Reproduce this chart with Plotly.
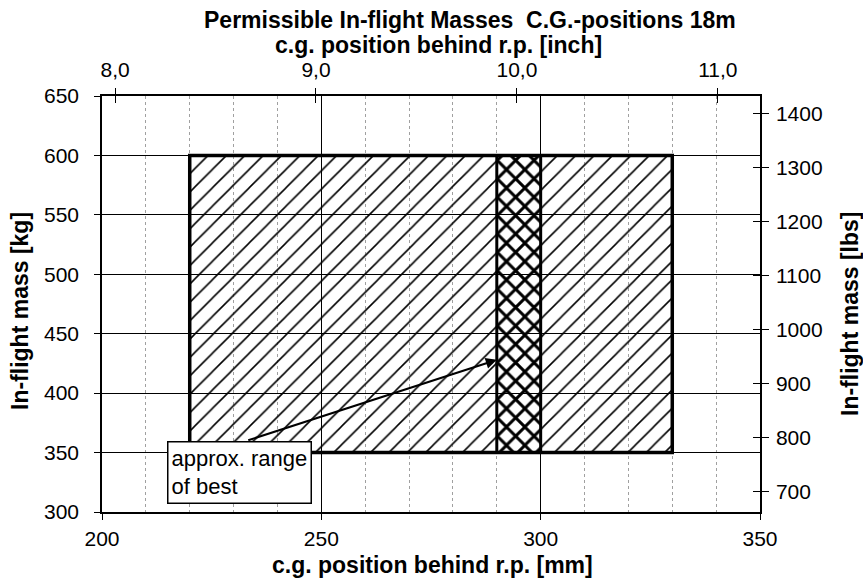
import plotly.graph_objects as go

# ---------------- data ----------------
cg_limits_mm = [220, 330]          # permissible c.g. range
best_range_mm = [290, 300]         # approx. range of best c.g.
mass_limits_kg = [350, 600]        # permissible in-flight mass
arrow_tip = [290, 428]             # (mm, kg) arrow points here
arrow_tail = [233, 360]            # (mm, kg) arrow leaves label box here
label_corner = [214.8, 359.8]      # (mm, kg) top-left of label box

x_ticks_mm = [200, 250, 300, 350]
y_ticks_kg = [300, 350, 400, 450, 500, 550, 600, 650]
inch_ticks = [8.0, 9.0, 10.0, 11.0]
inch_labels = ["8,0", "9,0", "10,0", "11,0"]
inch_range = [7.935, 11.21]
lbs_ticks = [700, 800, 900, 1000, 1100, 1200, 1300, 1400]
KG_TO_LBS = 2.20462

x_range = [200, 350]
y_range = [300, 650]
lbs_range = [y_range[0] * KG_TO_LBS, y_range[1] * KG_TO_LBS]

FONT = "Arial, Liberation Sans, Helvetica, sans-serif"

# ---------------- figure ----------------
fig = go.Figure()

a, b = cg_limits_mm
c, d = best_range_mm
lo, hi = mass_limits_kg

# single hatched permissible area (excluding best range)
fig.add_trace(go.Scatter(
    x=[a, c, c, a, a, None, d, b, b, d, d],
    y=[lo, lo, hi, hi, lo, None, lo, lo, hi, hi, lo],
    mode="lines", fill="toself", line=dict(width=0, color="black"),
    fillcolor="rgba(0,0,0,0)",
    fillpattern=dict(shape="/", fgcolor="black", bgcolor="rgba(0,0,0,0)",
                     size=13, solidity=0.12, fillmode="replace"),
    hoverinfo="skip", showlegend=False,
))

# cross-hatched best range
fig.add_trace(go.Scatter(
    x=[c, d, d, c, c],
    y=[lo, lo, hi, hi, lo],
    mode="lines", fill="toself", line=dict(width=3, color="black"),
    fillcolor="rgba(0,0,0,0)",
    fillpattern=dict(shape="x", fgcolor="black", bgcolor="rgba(0,0,0,0)",
                     size=13, solidity=0.4, fillmode="replace"),
    hoverinfo="skip", showlegend=False,
))

# outline of the permissible envelope
fig.add_trace(go.Scatter(
    x=[a, b, b, a, a],
    y=[lo, lo, hi, hi, lo],
    mode="lines", line=dict(width=3.5, color="black"),
    hoverinfo="skip", showlegend=False,
))

# secondary scales (inch / lbs)
fig.add_trace(go.Scatter(
    x=inch_range, y=lbs_range, xaxis="x2", yaxis="y2", mode="markers",
    marker=dict(opacity=0), hoverinfo="skip", showlegend=False,
))
fig.add_trace(go.Scatter(
    x=inch_range, y=lbs_range, xaxis="x3", yaxis="y3", mode="markers",
    marker=dict(opacity=0), hoverinfo="skip", showlegend=False,
))

tickfont = dict(family=FONT, size=21, color="black")

fig.update_layout(
    width=863, height=582,
    margin=dict(l=102, r=103, t=96, b=70, autoexpand=False),
    paper_bgcolor="white", plot_bgcolor="white",
    font=dict(family=FONT, color="black"),
    showlegend=False,
    xaxis=dict(
        range=x_range, tickvals=x_ticks_mm, tickfont=tickfont, automargin=False,
        showgrid=True, gridcolor="black", gridwidth=1,
        showline=True, linecolor="black", linewidth=1.5,
        ticks="outside", ticklen=6, tickcolor="black", tickwidth=1,
        zeroline=False, ticklabelstandoff=1,
        minor=dict(tick0=200, dtick=10, showgrid=True, gridcolor="#a0a0a0",
                   griddash="dot", gridwidth=1, ticks=""),
    ),
    yaxis=dict(
        range=y_range, tickvals=y_ticks_kg, tickfont=tickfont, automargin=False,
        showgrid=True, gridcolor="black", gridwidth=1,
        showline=True, linecolor="black", linewidth=1.5,
        ticks="outside", ticklen=6, tickcolor="black", tickwidth=1,
        zeroline=False, ticklabelstandoff=11,
    ),
    xaxis2=dict(
        overlaying="x", side="top", anchor="y2", range=inch_range, automargin=False,
        tickvals=inch_ticks, ticktext=inch_labels, tickfont=tickfont,
        showgrid=False, showline=True, linecolor="black", linewidth=1.5,
        ticks="outside", ticklen=6, tickcolor="black", zeroline=False,
        ticklabelstandoff=3,
    ),
    yaxis2=dict(
        overlaying="y", side="right", anchor="x2", range=lbs_range, automargin=False,
        tickvals=lbs_ticks, tickfont=tickfont,
        showgrid=False, showline=True, linecolor="black", linewidth=1.5,
        ticks="outside", ticklen=7, tickcolor="black", zeroline=False,
        ticklabelstandoff=3,
    ),
    xaxis3=dict(
        overlaying="x", side="top", anchor="y3", range=inch_range, automargin=False,
        tickvals=inch_ticks, showticklabels=False,
        showgrid=False, showline=False, ticks="inside", ticklen=7,
        tickcolor="black", zeroline=False,
    ),
    yaxis3=dict(
        overlaying="y", side="right", anchor="x3", range=lbs_range, automargin=False,
        tickvals=lbs_ticks, showticklabels=False,
        showgrid=False, showline=False, ticks="inside", ticklen=7,
        tickcolor="black", zeroline=False,
    ),
)

bold = dict(family=FONT, size=23, color="black")
fig.add_annotation(text="<b>Permissible In-flight Masses\u00a0 C.G.-positions 18m</b>",
                   xref="paper", yref="paper", x=(470 - 102) / 658, y=(512 - 20) / 416,
                   showarrow=False, font=bold, xanchor="center", yanchor="middle")
fig.add_annotation(text="<b>c.g. position behind r.p. [inch]</b>",
                   xref="paper", yref="paper", x=(438 - 102) / 658, y=(512 - 45) / 416,
                   showarrow=False, font=bold, xanchor="center", yanchor="middle")
fig.add_annotation(text="<b>c.g. position behind r.p. [mm]</b>",
                   xref="paper", yref="paper", x=(432 - 102) / 658, y=(512 - 565) / 416,
                   showarrow=False, font=bold, xanchor="center", yanchor="middle")
fig.add_annotation(text="<b>In-flight mass [kg]</b>", textangle=-90,
                   xref="paper", yref="paper", x=(20 - 102) / 658, y=(512 - 311) / 416,
                   showarrow=False, font=bold, xanchor="center", yanchor="middle")
fig.add_annotation(text="<b>In-flight mass [lbs]</b>", textangle=-90,
                   xref="paper", yref="paper", x=(850 - 102) / 658, y=(512 - 314) / 416,
                   showarrow=False, font=bold, xanchor="center", yanchor="middle")

# label box
fig.add_annotation(text="approx. range<br>of best", xref="x", yref="y",
                   x=label_corner[0], y=label_corner[1], xanchor="left", yanchor="top",
                   align="left", showarrow=False, bgcolor="white",
                   bordercolor="black", borderwidth=1.5, borderpad=3,
                   font=dict(family=FONT, size=22, color="black"))
# arrow
fig.add_annotation(text="", xref="x", yref="y", axref="x", ayref="y",
                   x=arrow_tip[0], y=arrow_tip[1], ax=arrow_tail[0], ay=arrow_tail[1],
                   showarrow=True, arrowhead=2, arrowsize=1.1, arrowwidth=2,
                   arrowcolor="black", standoff=0, startstandoff=0)

fig.write_html("out.html",
               config={"displayModeBar": False},
               post_script="document.body.style.margin='0';"
                           "document.body.style.overflow='hidden';")
